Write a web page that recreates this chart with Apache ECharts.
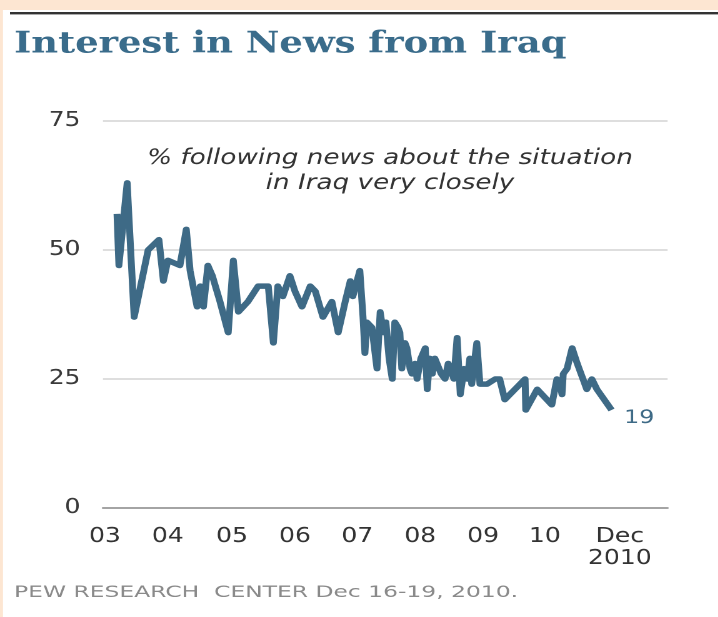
<!DOCTYPE html>
<html>
<head>
<meta charset="utf-8">
<script src="https://cdn.jsdelivr.net/npm/echarts@6/dist/echarts.min.js"></script>
<style>
html,body{margin:0;padding:0;background:#fff;overflow:hidden;}
#wrap{width:718px;height:617px;overflow:hidden;}
#chart{width:574.4px;height:617px;transform:scaleX(1.25);transform-origin:0 0;}
</style>
</head>
<body>
<div id="wrap"><div id="chart"></div></div>
<script>
// Survey dates (decimal years) and % following Iraq news very closely
const surveyYears = [2003.17, 2003.20, 2003.33, 2003.44, 2003.66, 2003.83, 2003.90, 2003.97,
  2004.16, 2004.26, 2004.32, 2004.43, 2004.48, 2004.53, 2004.60, 2004.67, 2004.79, 2004.92,
  2005.00, 2005.08, 2005.23, 2005.39, 2005.55, 2005.63, 2005.70, 2005.78, 2005.89, 2005.97,
  2006.08, 2006.21, 2006.29, 2006.41, 2006.55, 2006.65, 2006.76, 2006.84, 2006.88, 2006.99,
  2007.04, 2007.07, 2007.10, 2007.18, 2007.23, 2007.26, 2007.31, 2007.36, 2007.40, 2007.45, 2007.50,
  2007.54, 2007.59, 2007.62, 2007.65, 2007.70, 2007.73, 2007.78, 2007.81, 2007.86, 2007.89, 2007.95,
  2008.02, 2008.05, 2008.09, 2008.13, 2008.17, 2008.20, 2008.27, 2008.33, 2008.38, 2008.41, 2008.47,
  2008.52, 2008.57, 2008.63, 2008.68, 2008.72, 2008.75, 2008.79, 2008.83, 2008.88, 2008.99,
  2009.12, 2009.19, 2009.27, 2009.43, 2009.59, 2009.60, 2009.78,
  2010.01, 2010.09, 2010.14, 2010.17, 2010.19, 2010.25, 2010.33, 2010.41, 2010.56, 2010.64, 2010.72, 2010.95];
const pctVeryClosely = [57, 47, 63, 37, 50, 52, 44, 48,
  47, 54, 46, 39, 43, 39, 47, 45, 40, 34,
  48, 38, 40, 43, 43, 32, 43, 41, 45, 42,
  39, 43, 42, 37, 40, 34, 40, 44, 41, 46,
  37, 30, 36, 35, 30, 27, 38, 34, 36, 29, 25,
  36, 35, 34, 27, 32, 31, 27, 26, 28, 25, 29,
  31, 23, 29, 26, 29, 29, 26, 25, 28, 27, 25,
  33, 22, 27, 25, 29, 24, 28, 32, 24, 24,
  25, 25, 21, 23, 25, 19, 23,
  20, 25, 24, 22, 26, 27, 31, 28, 23, 25, 23, 19];
// positions of the year labels as printed on the original chart
const xTickValues = [2002.98, 2003.97, 2004.98, 2005.97, 2006.95, 2007.94, 2008.93, 2009.90, 2011.08];
const xTickLabels = ['03', '04', '05', '06', '07', '08', '09', '10', 'Dec\n2010'];
const yTicks = [0, 25, 50, 75];

const titleText = 'Interest in News from Iraq';
const noteLines = ['% following news about the situation', 'in Iraq very closely'];
const sourceText = 'PEW RESEARCH  CENTER Dec 16-19, 2010.';

const lineColor = '#3e6a86';
const chart = echarts.init(document.getElementById('chart'), null, {renderer: 'canvas', devicePixelRatio: 2});
const seriesData = surveyYears.map((x, i) => [x, pctVeryClosely[i]]);

chart.setOption({
  backgroundColor: '#ffffff',
  animation: false,
  grid: {left: 82.4, right: 40, top: 121, bottom: 109},
  xAxis: {
    type: 'value',
    min: 2002.95,
    max: 2011.83,
    axisLine: {show: true, lineStyle: {color: '#a4a4a4', width: 2}},
    axisTick: {show: false},
    splitLine: {show: false},
    axisLabel: {
      customValues: xTickValues,
      color: '#333',
      fontFamily: 'DejaVu Sans',
      fontSize: 20,
      lineHeight: 22,
      margin: 18,
      verticalAlign: 'top',
      formatter: function (v) {
        const i = xTickValues.indexOf(v);
        return i >= 0 ? xTickLabels[i] : '';
      }
    }
  },
  yAxis: {
    type: 'value',
    min: 0,
    max: 75,
    interval: 25,
    axisLine: {show: false},
    axisTick: {show: false},
    splitLine: {show: true, lineStyle: {color: '#d4d4d4', width: 1.5}},
    axisLabel: {
      color: '#3a3a3a',
      fontFamily: 'DejaVu Sans',
      fontSize: 20,
      margin: 18,
      formatter: function (v) { return yTicks.indexOf(v) >= 0 ? String(v) : ''; }
    }
  },
  series: [{
    type: 'line',
    data: seriesData,
    showSymbol: false,
    symbol: 'none',
    lineStyle: {color: lineColor, width: 5.5, join: 'round'},
    endLabel: {
      show: true,
      formatter: function (p) { return String(p.value[1]); },
      color: lineColor,
      fontFamily: 'DejaVu Sans',
      fontSize: 19,
      offset: [2, 8]
    },
    z: 3
  }],
  graphic: [
    {type: 'rect', left: 0, top: 0, shape: {width: 575, height: 10}, style: {fill: '#fde6d2'}, silent: true},
    {type: 'rect', left: 0, top: 0, shape: {width: 2.4, height: 617}, style: {fill: '#fde6d2'}, silent: true},
    {type: 'rect', left: 8, top: 12, shape: {width: 567, height: 2}, style: {fill: '#333'}, silent: true},
    {type: 'rect', left: 8, top: 14, shape: {width: 567, height: 1}, style: {fill: '#aaa'}, silent: true},
    {type: 'text', left: 11.2, top: 30, style: {text: titleText, font: 'bold 29.5px "DejaVu Serif"', fill: '#3a6c8b'}},
    {type: 'text', x: 312, y: 146, style: {
      text: noteLines.join('\n'), font: 'italic 21px "DejaVu Sans"', fill: '#333', align: 'center', verticalAlign: 'top', lineHeight: 25}},
    {type: 'text', x: 11.2, y: 585, scaleX: 1.17, style: {text: sourceText, font: '16px "DejaVu Sans"', fill: '#8a8a8a', verticalAlign: 'top'}}
  ]
});
</script>
</body>
</html>
